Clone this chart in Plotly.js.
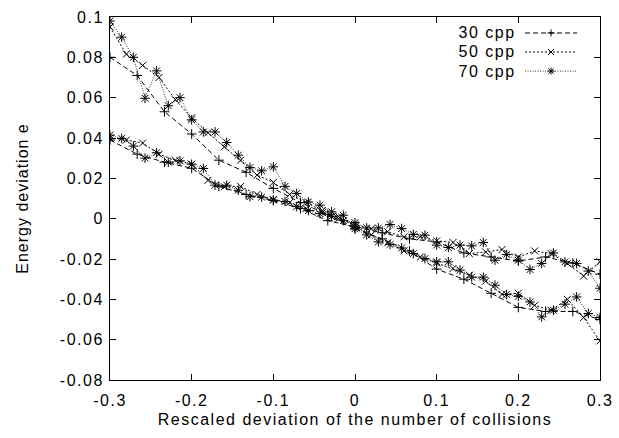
<!DOCTYPE html>
<html>
<head>
<meta charset="utf-8">
<script src="https://cdn.plot.ly/plotly-3.0.1.min.js"></script>
<style>
html,body{margin:0;padding:0;background:#fff}
#plot{width:619px;height:438px}
#plot .xtick text, #plot .ytick text, #plot .xtitle, #plot .annotation-text {letter-spacing:1.5px}
#plot .ytitle {letter-spacing:1px}
</style>
</head>
<body>
<div id="plot"></div>
<script>
// ---- data ----
var x30 = [-0.3,-0.2667,-0.2333,-0.2,-0.1667,-0.1333,-0.1,-0.0667,-0.0333,0,0.0333,0.0667,0.1,0.1333,0.1667,0.2,0.2333,0.2667,0.3];
var up30 = [0.080,0.071,0.053,0.042,0.029,0.023,0.015,0.008,0.002,-0.005,-0.010,-0.016,-0.025,-0.030,-0.037,-0.044,-0.046,-0.046,-0.050];
var lo30 = [0.039,0.032,0.028,0.025,0.016,0.012,0.009,0.005,-0.001,-0.004,-0.007,-0.010,-0.0115,-0.017,-0.019,-0.021,-0.019,-0.022,-0.0275];

var x50 = [-0.30,-0.28,-0.26,-0.24,-0.22,-0.20,-0.18,-0.16,-0.14,-0.12,-0.10,-0.08,-0.06,-0.04,-0.02,0.00,0.02,0.04,0.06,0.08,0.10,0.12,0.14,0.16,0.18,0.20,0.22,0.24,0.26,0.28,0.30];
var up50 = [0.095,0.0816,0.076,0.070,0.059,0.050,0.0426,0.0356,0.029,0.0216,0.018,0.012,0.008,0.004,0.001,-0.004,-0.008,-0.012,-0.016,-0.019,-0.022,-0.0247,-0.028,-0.031,-0.0375,-0.037,-0.043,-0.0454,-0.040,-0.049,-0.0606];
var lo50 = [0.040,0.039,0.0375,0.032,0.029,0.027,0.019,0.0158,0.016,0.012,0.0095,0.008,0.005,0.003,0.000,-0.003,-0.005,-0.0065,-0.009,-0.009,-0.011,-0.0118,-0.0173,-0.0165,-0.0153,-0.019,-0.016,-0.0173,-0.0222,-0.0285,-0.0214];

var x70 = [-0.3,-0.2857,-0.2714,-0.2571,-0.2429,-0.2286,-0.2143,-0.2,-0.1857,-0.1714,-0.1571,-0.1429,-0.1286,-0.1143,-0.1,-0.0857,-0.0714,-0.0571,-0.0429,-0.0286,-0.0143,0,0.0143,0.0286,0.0429,0.0571,0.0714,0.0857,0.1,0.1143,0.1286,0.1429,0.1571,0.1714,0.1857,0.2,0.2143,0.2286,0.2429,0.2571,0.2714,0.2857,0.3];
var up70 = [0.098,0.090,0.080,0.0597,0.0733,0.056,0.060,0.049,0.043,0.043,0.0378,0.0315,0.0254,0.0237,0.0257,0.016,0.0125,0.0083,0.0067,0.0034,0.0017,-0.005,-0.008,-0.0115,-0.0128,-0.0145,-0.0173,-0.0198,-0.0214,-0.0214,-0.0255,-0.029,-0.029,-0.033,-0.0376,-0.0385,-0.0413,-0.0487,-0.0454,-0.0424,-0.0388,-0.047,-0.049];
var lo70 = [0.0414,0.0398,0.036,0.030,0.0327,0.028,0.0287,0.027,0.0249,0.0166,0.0166,0.0141,0.0109,0.0107,0.0092,0.0085,0.006,0.004,0.0025,0.001,-0.001,-0.002,-0.0046,-0.0046,-0.0029,-0.0049,-0.0078,-0.0082,-0.0131,-0.0143,-0.0131,-0.0135,-0.0118,-0.0206,-0.0178,-0.0206,-0.0252,-0.0222,-0.017,-0.0214,-0.0222,-0.026,-0.0345];

var seriesNames = ["30 cpp", "50 cpp", "70 cpp"];
var xTickVals = [-0.3,-0.2,-0.1,0,0.1,0.2,0.3];
var xTickText = ["-0.3","-0.2","-0.1","0","0.1","0.2","0.3"];
var yTickVals = [0.1,0.08,0.06,0.04,0.02,0,-0.02,-0.04,-0.06,-0.08];
var yTickText = ["0.1","0.08","0.06","0.04","0.02","0","-0.02","-0.04","-0.06","-0.08"];

// ---- styles ----
var styles = [
  {dash: "5px,3px", color: "#000", sym: "cross-thin-open", size: 7},
  {dash: "2px,2px", color: "#000", sym: "x-thin-open", size: 7},
  {dash: "1px,1.5px", color: "#333", sym: "asterisk-open", size: 8}
];
var xs = [x30, x50, x70], ups = [up30, up50, up70], los = [lo30, lo50, lo70];

var traces = [];
for (var i = 0; i < 3; i++) {
  traces.push({
    type: "scatter", mode: "lines+markers", name: seriesNames[i],
    x: xs[i].concat([null], xs[i]),
    y: ups[i].concat([null], los[i]),
    connectgaps: false, showlegend: false, hoverinfo: "skip",
    line: {color: styles[i].color, width: 1, dash: styles[i].dash},
    marker: {symbol: styles[i].sym, size: styles[i].size, color: "#000", line: {color: "#000", width: 1}}
  });
}

// custom gnuplot-style key (text left, sample right)
var FONT = "Liberation Sans, Arial, sans-serif";
var annotations = [], shapes = [];
var rowsY = [0.956, 0.9036, 0.851];
var markerPaths = [
  "M-3.5,0L3.5,0M0,-3.5L0,3.5",
  "M-3,-3L3,3M-3,3L3,-3",
  "M-3.5,0L3.5,0M0,-3.5L0,3.5M-2.6,-2.6L2.6,2.6M-2.6,2.6L2.6,-2.6"
];
for (var j = 0; j < 3; j++) {
  annotations.push({xref: "paper", yref: "paper", x: 0.823, y: rowsY[j], xanchor: "right", yanchor: "middle",
    text: seriesNames[j], showarrow: false, font: {family: FONT, size: 16, color: "#000"}});
  shapes.push({type: "line", xref: "paper", yref: "paper", x0: 0.847, x1: 0.953, y0: rowsY[j], y1: rowsY[j],
    line: {color: styles[j].color, width: 1, dash: styles[j].dash}});
  shapes.push({type: "path", xref: "paper", yref: "paper", xsizemode: "pixel", ysizemode: "pixel",
    xanchor: 0.9, yanchor: rowsY[j], path: markerPaths[j], line: {color: "#000", width: 1}});
}

var axisCommon = {
  showline: true, linecolor: "#000", linewidth: 1, mirror: "allticks",
  ticks: "inside", ticklen: 6, tickcolor: "#000", tickwidth: 1,
  showgrid: false, zeroline: false,
  tickfont: {family: FONT, size: 16, color: "#000"}
};

var layout = {
  width: 619, height: 438,
  margin: {l: 110, r: 19, t: 17, b: 58},
  paper_bgcolor: "#fff", plot_bgcolor: "#fff",
  showlegend: false,
  xaxis: Object.assign({}, axisCommon, {
    range: [-0.3, 0.3], tickvals: xTickVals, ticktext: xTickText, ticklabelstandoff: 6,
    title: {text: "Rescaled deviation of the number of collisions", font: {family: FONT, size: 16, color: "#000"}, standoff: 5}
  }),
  yaxis: Object.assign({}, axisCommon, {
    range: [-0.08, 0.1], tickvals: yTickVals, ticktext: yTickText, ticklabelstandoff: 2,
    title: {text: "Energy deviation e", font: {family: FONT, size: 16, color: "#000"}, standoff: 34}
  }),
  annotations: annotations, shapes: shapes
};

Plotly.newPlot("plot", traces, layout, {staticPlot: true, displayModeBar: false});
</script>
</body>
</html>
